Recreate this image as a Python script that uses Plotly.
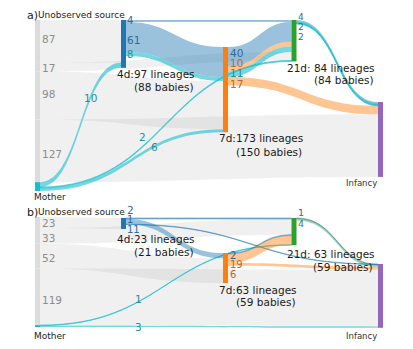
import plotly.graph_objects as go

W, H = 413, 349

# ---------------- data ----------------
# Panel a
a_unobs_targets = ["4d", "21d", "7d", "Infancy"]
a_unobs_values = [87, 17, 98, 127]
a_src = ["Mother", "Mother", "Mother", "4d", "4d", "4d", "7d", "7d", "7d", "7d", "21d", "21d", "21d"]
a_tgt = ["4d", "21d", "7d", "21d", "7d", "7d", "21d", "21d", "21d", "Infancy", "Infancy", "Infancy", "Infancy"]
a_val = [10, 2, 6, 4, 61, 8, 40, 10, 11, 17, 4, 2, 2]
a_grp = ["mother", "mother", "mother", "4d", "4d", "mother", "4d", "7d", "mother", "7d", "4d", "mother", "mother"]
a_stage_text = {"4d": ("4d:97 lineages", "(88 babies)"),
                "7d": ("7d:173 lineages", "(150 babies)"),
                "21d": ("21d: 84 lineages", "(84 babies)")}

# Panel b
b_unobs_targets = ["4d", "21d", "7d", "Infancy"]
b_unobs_values = [23, 33, 52, 119]
b_src = ["Mother", "Mother", "4d", "4d", "4d", "7d", "7d", "7d", "21d", "21d"]
b_tgt = ["21d", "Infancy", "21d", "7d", "Infancy", "21d", "21d", "Infancy", "Infancy", "Infancy"]
b_val = [1, 3, 2, 11, 1, 2, 19, 6, 1, 4]
b_grp = ["mother", "mother", "4d", "4d", "4d", "4d", "7d", "7d", "4d", "21d"]
b_stage_text = {"4d": ("4d:23 lineages", "(21 babies)"),
                "7d": ("7d:63 lineages", "(59 babies)"),
                "21d": ("21d: 63 lineages", "(59 babies)")}

# ---------------- styles / layout ----------------
STAGES = ["Mother", "4d", "7d", "21d", "Infancy"]
XC = {"Unobserved source": 37.5, "Mother": 37.5, "4d": 123.5, "7d": 225.5, "21d": 294.0, "Infancy": 380.5}
NODE_COL = {"Unobserved source": "#dcdcdc", "Mother": "#17becf", "4d": "#1f77b4",
            "7d": "#ff7f0e", "21d": "#2ca02c", "Infancy": "#9467bd"}
LINK_FILL = {"grey": "rgba(140,140,140,0.13)", "mother": "rgba(23,190,207,0.6)",
             "4d": "rgba(31,119,180,0.45)", "7d": "rgba(255,127,14,0.45)",
             "21d": "rgba(44,160,44,0.45)"}
TXT = {"grey": "#8c8c8c", "mother": "#2a8e96", "4d": "#2f6b9a", "7d": "#b86a26",
       "21d": "#4d7a4d", "black": "#1a1a1a"}


def build(unobs_targets, unobs_values, src, tgt, val, grp, dom_top, dom_h, tops):
    mother_total = sum(v for s, v in zip(src, val) if s == "Mother")
    ky = dom_h / (sum(unobs_values) + mother_total)
    idx = {name: 4 + i for i, name in enumerate(STAGES)}
    xs, ys, cols = [], [], []
    y = dom_top
    for v in unobs_values:
        h = v * ky
        xs.append(XC["Unobserved source"] / W)
        ys.append((y + h / 2 - dom_top) / dom_h)
        cols.append(NODE_COL["Unobserved source"])
        y += h
    tops = dict(tops)
    tops["Mother"] = y
    for name in STAGES:
        inflow = sum(v for t, v in zip(tgt, val) if t == name)
        inflow += sum(v for t, v in zip(unobs_targets, unobs_values) if t == name)
        outflow = sum(v for s, v in zip(src, val) if s == name)
        h = max(inflow, outflow) * ky
        xs.append(XC[name] / W)
        ys.append((tops[name] + h / 2 - dom_top) / dom_h)
        cols.append(NODE_COL[name])
    L_s, L_t, L_v, L_c = [], [], [], []
    for i, (t, v) in enumerate(zip(unobs_targets, unobs_values)):
        L_s.append(i); L_t.append(idx[t]); L_v.append(v); L_c.append(LINK_FILL["grey"])
    for s, t, v, g in zip(src, tgt, val, grp):
        L_s.append(idx[s]); L_t.append(idx[t]); L_v.append(v); L_c.append(LINK_FILL[g])
    return go.Sankey(
        arrangement="fixed",
        domain=dict(x=[0, 1], y=[1 - (dom_top + dom_h) / H, 1 - dom_top / H]),
        node=dict(pad=0, thickness=5, label=[""] * len(xs), x=xs, y=ys, color=cols,
                  line=dict(width=0)),
        link=dict(source=L_s, target=L_t, value=L_v, color=L_c, line=dict(width=0)),
        hoverinfo="none",
    )


fig = go.Figure()
fig.add_trace(build(a_unobs_targets, a_unobs_values, a_src, a_tgt, a_val, a_grp,
                    20, 171, {"4d": 20, "7d": 47, "21d": 20, "Infancy": 102}))
fig.add_trace(build(b_unobs_targets, b_unobs_values, b_src, b_tgt, b_val, b_grp,
                    217, 110, {"4d": 218, "7d": 253, "21d": 218, "Infancy": 264}))

ann = []


def add(text, x, y, size, color):
    ann.append(dict(text=text, x=(x - 1) / W, y=1 - y / H, xref="paper", yref="paper",
                    xanchor="left", yanchor="middle", showarrow=False, borderpad=0,
                    font=dict(family="DejaVu Sans", size=size, color=color)))


# label positions (px) for each link label, same order as the data
a_unobs_pos = [(42, 39), (42, 68), (42, 94), (42, 154)]
a_pos = [(84, 98), (139, 137), (151, 147), (127, 21), (127, 40), (127, 54),
         (230, 53), (230, 63), (230, 73), (230, 84), (298, 17), (298, 27), (298, 37)]
a_size = [10.5, 10.5, 10.5, 10, 10.5, 10, 10.5, 10.5, 10.5, 10.5, 9, 9, 9]
a_txtcol = ["mother", "mother", "mother", "4d", "4d", "mother", "4d", "7d", "mother", "7d", "4d", "4d", "4d"]
b_unobs_pos = [(42, 223), (42, 238), (42, 258), (42, 300)]
b_pos = [(135, 299), (135, 327), (127, 210), (127, 229), (127, 219),
         (230, 255), (230, 264), (230, 274), (298, 212), (298, 223)]
b_size = [10.5, 10.5, 10.5, 10, 10, 10, 10, 10, 9.5, 9.5]
b_txtcol = ["mother", "mother", "4d", "4d", "4d", "4d", "7d", "7d", "4d", "21d"]

for v, (x, y) in zip(a_unobs_values, a_unobs_pos):
    add(str(v), x, y, 10.5, TXT["grey"])
for v, (x, y), s, c in zip(a_val, a_pos, a_size, a_txtcol):
    add(str(v), x, y, s, TXT[c])
for v, (x, y) in zip(b_unobs_values, b_unobs_pos):
    add(str(v), x, y, 10.5, TXT["grey"])
for v, (x, y), s, c in zip(b_val, b_pos, b_size, b_txtcol):
    add(str(v), x, y, s, TXT[c])

stage_pos_a = {"4d": ((117, 74), (134, 87)), "7d": ((219, 138), (236, 152)), "21d": ((287, 68), (314, 80))}
stage_pos_b = {"4d": ((117, 239), (134, 252)), "7d": ((219, 290), (236, 302)), "21d": ((287, 254), (313, 267))}
for k, (t1, t2) in a_stage_text.items():
    (x1, y1), (x2, y2) = stage_pos_a[k]
    add(t1, x1, y1, 10.5, TXT["black"]); add(t2, x2, y2, 10.5, TXT["black"])
for k, (t1, t2) in b_stage_text.items():
    (x1, y1), (x2, y2) = stage_pos_b[k]
    add(t1, x1, y1, 10.5, TXT["black"]); add(t2, x2, y2, 10.5, TXT["black"])

for letter, y in (("a)", 15), ("b)", 212)):
    add(letter, 27, y, 11, TXT["black"])
    add("Unobserved source", 38, y, 9, TXT["black"])
add("Mother", 34, 197, 9, "#222222")
add("Infancy", 346, 183, 8.5, "#333333")
add("Mother", 34, 336, 9, "#222222")
add("Infancy", 346, 336, 8.5, "#333333")

fig.update_layout(width=W, height=H, margin=dict(l=0, r=0, t=0, b=0),
                  paper_bgcolor="white", plot_bgcolor="white",
                  font=dict(family="DejaVu Sans"), annotations=ann, showlegend=False)

fig.write_html("out.html")
